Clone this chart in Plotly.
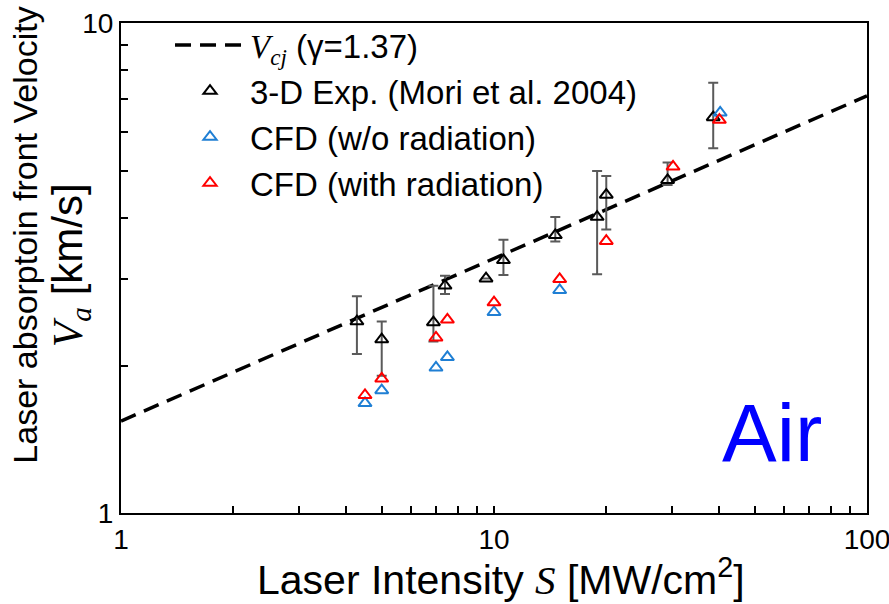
import plotly.graph_objects as go

# Chapman-Jouguet line (V ~ S^(1/3))
cj_S = [1, 100]
cj_V = [1.54, 7.1]

# 3-D experiment (Mori et al. 2004)
exp_S = [4.29, 5.0, 6.88, 7.39, 9.52, 10.6, 14.6, 18.9, 20.0, 29.2, 38.7]
exp_V = [2.46, 2.26, 2.45, 2.91, 3.01, 3.28, 3.69, 4.02, 4.46, 4.78, 6.42]
exp_top = [2.77, 2.46, 2.91, 3.05, 3.01, 3.61, 4.02, 4.99, 4.87, 5.19, 7.55]
exp_bot = [2.11, 1.905, 2.24, 2.80, 3.01, 3.06, 3.58, 3.07, 3.79, 4.67, 5.55]

# CFD without radiation
nr_S = [4.51, 5.0, 6.99, 7.5, 10.0, 15.0, 40.4]
nr_V = [1.675, 1.78, 1.98, 2.08, 2.57, 2.85, 6.56]

# CFD with radiation
wr_S = [4.51, 5.0, 6.99, 7.5, 10.0, 15.0, 20.0, 30.2, 40.2]
wr_V = [1.74, 1.88, 2.28, 2.48, 2.69, 3.0, 3.59, 5.09, 6.34]

x_tickvals = [1, 2, 3, 4, 5, 6, 7, 8, 9, 10, 20, 30, 40, 50, 60, 70, 80, 90, 100]
x_ticktext = ["1"] + [""] * 8 + ["10"] + [""] * 8 + ["100"]
y_tickvals = [1, 2, 3, 4, 5, 6, 7, 8, 9, 10]
y_ticktext = ["1"] + [""] * 8 + ["10"]

SANS = "Liberation Sans, Arial, sans-serif"
SERIF = "Liberation Serif"

fig = go.Figure()
fig.add_trace(go.Scatter(
    x=cj_S, y=cj_V, mode="lines",
    line=dict(color="black", width=3.5, dash="16px,9px"),
    name=f"<span style='font-family:{SERIF}'><i>V<sub>cj</sub></i></span> (γ=1.37)",
    legendgroup="a"))
fig.add_trace(go.Scatter(
    x=exp_S, y=exp_V, mode="markers",
    marker=dict(symbol="triangle-up-open", size=11.5, color="black", line=dict(width=2)),
    error_y=dict(type="data", symmetric=False,
                 array=[t - v for t, v in zip(exp_top, exp_V)],
                 arrayminus=[v - b for v, b in zip(exp_V, exp_bot)],
                 color="#5a5a5a", thickness=2, width=5),
    name="3-D Exp. (Mori et al. 2004)", legendgroup="b"))
fig.add_trace(go.Scatter(
    x=nr_S, y=nr_V, mode="markers",
    marker=dict(symbol="triangle-up-open", size=11.5, color="#1f7fd4", line=dict(width=2)),
    name="CFD (w/o radiation)", legendgroup="c"))
fig.add_trace(go.Scatter(
    x=wr_S, y=wr_V, mode="markers",
    marker=dict(symbol="triangle-up-open", size=11.5, color="#ff0000", line=dict(width=2)),
    name="CFD (with radiation)", legendgroup="d"))

axis_common = dict(type="log", showline=True, linewidth=2, linecolor="black", mirror=True,
                   showgrid=False, zeroline=False, ticks="inside", ticklen=7, tickwidth=1.5,
                   tickcolor="black", ticklabeloverflow="allow", automargin=False,
                   tickfont=dict(size=28, color="black", family=SANS))
fig.update_xaxes(range=[0, 2], tickvals=x_tickvals, ticktext=x_ticktext, **axis_common)
fig.update_yaxes(range=[0, 1], tickvals=y_tickvals, ticktext=y_ticktext, **axis_common)

fig.add_annotation(xref="paper", yref="paper", x=0.8727, y=0.165, xanchor="center",
                   yanchor="middle", text="Air", showarrow=False,
                   font=dict(size=82, color="#0000ff", family=SANS))
fig.add_annotation(xref="paper", yref="paper", x=0.51, y=-0.13, xanchor="center",
                   yanchor="middle", showarrow=False,
                   text=f"Laser Intensity <span style='font-family:{SERIF}'><i>S</i></span> [MW/cm<sup>2</sup>]",
                   font=dict(size=41, color="black", family=SANS))
fig.add_annotation(xref="paper", yref="paper", x=-0.128, y=0.567, xanchor="center",
                   yanchor="middle", showarrow=False, textangle=-90,
                   text="Laser absorptoin front Velocity",
                   font=dict(size=34, color="black", family=SANS))
fig.add_annotation(xref="paper", yref="paper", x=-0.068, y=0.506, xanchor="center",
                   yanchor="middle", showarrow=False, textangle=-90,
                   text=f"<span style='font-family:{SERIF}'><i>V<sub>a</sub></i></span> [km/s]",
                   font=dict(size=42, color="black", family=SANS))

fig.update_layout(
    width=889, height=604,
    margin=dict(l=121, r=22, t=23, b=91, autoexpand=False),
    paper_bgcolor="white", plot_bgcolor="white",
    showlegend=True,
    legend=dict(x=0.0657, y=1.012, xanchor="left", yanchor="top",
                bgcolor="rgba(0,0,0,0)", font=dict(size=33, color="black", family=SANS),
                itemwidth=70, tracegroupgap=0, traceorder="grouped"),
)

fig.write_html("out.html")
